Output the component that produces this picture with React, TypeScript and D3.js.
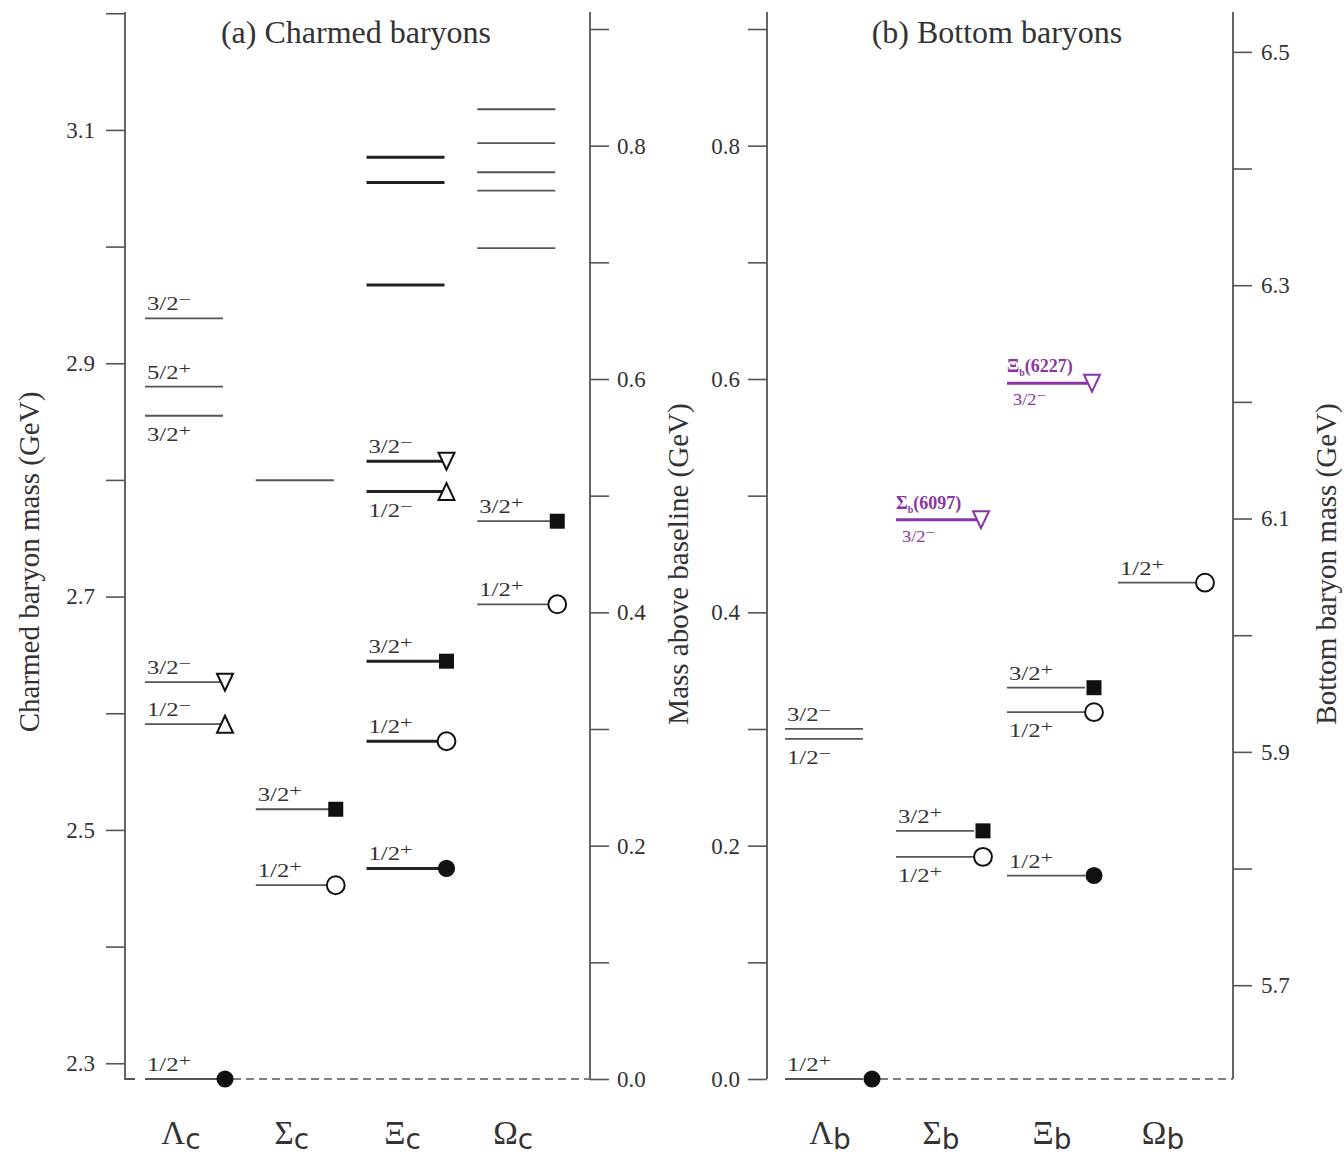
import React, { useEffect, useRef } from "react";
import * as d3 from "d3";

// ground states used as baselines (GeV)
const charmBase = 2.2865;
const bottomBase = 5.6196;

const charmNames = ["Λ", "Σ", "Ξ", "Ω"];
const bottomNames = ["Λ", "Σ", "Ξ", "Ω"];

// [mass (GeV), J^P, marker]
const lambdaC = [
  [2.2865, "1/2+", "dot"],
  [2.5906, "1/2-", "up"],
  [2.6266, "3/2-", "down"],
  [2.855, "3/2+", ""],
  [2.88, "5/2+", ""],
  [2.9385, "3/2-", ""],
];
const sigmaC = [
  [2.4526, "1/2+", "ring"],
  [2.5177, "3/2+", "square"],
  [2.7997, "", ""],
];
const xiC = [
  [2.467, "1/2+", "dot"],
  [2.576, "1/2+", "ring"],
  [2.6446, "3/2+", "square"],
  [2.79, "1/2-", "up"],
  [2.816, "3/2-", "down"],
  [2.967, "", ""],
  [3.055, "", ""],
  [3.0766, "", ""],
];
const omegaC = [
  [2.6934, "1/2+", "ring"],
  [2.7646, "3/2+", "square"],
  [2.9986, "", ""],
  [3.048, "", ""],
  [3.0637, "", ""],
  [3.0886, "", ""],
  [3.1177, "", ""],
];

const lambdaB = [
  [5.6196, "1/2+", "dot"],
  [5.9111, "1/2-", ""],
  [5.9197, "3/2-", ""],
];
const sigmaB = [
  [5.81, "1/2+", "ring"],
  [5.8323, "3/2+", "square"],
];
const xiB = [
  [5.794, "1/2+", "dot"],
  [5.934, "1/2+", "ring"],
  [5.955, "3/2+", "square"],
];
const omegaB = [[6.045, "1/2+", "ring"]];

// newly observed states (purple): column, mass, name tag, J^P
const newStates = [
  ["Σ", 6.099, "6097", "3/2-"],
  ["Ξ", 6.216, "6227", "3/2-"],
];

const charmCols = [lambdaC, sigmaC, xiC, omegaC];
const bottomCols = [lambdaB, sigmaB, xiB, omegaB];
const heavyCols = ["Ξc"];

const FONT = "'Liberation Serif', 'DejaVu Serif', serif";
const PURPLE = "#8a35a3";

const yTop = 12;
const yBot = 1079;

const yExc = d3.scaleLinear().domain([0, 0.9]).range([yBot, 29]);
const yC = d3.scaleLinear().domain([charmBase, charmBase + 0.9]).range([yBot, 29]);
const yB = d3.scaleLinear().domain([bottomBase, bottomBase + 0.9]).range([yBot, 29]);
const xC = d3.scaleBand().domain(charmNames.map((n) => n + "c")).range([145, 588]);
const xB = d3.scaleBand().domain(bottomNames.map((n) => n + "b")).range([785, 1229]);

const triUp = "M0,-8.5L8,8.5L-8,8.5Z";

const symbolFor = (m) => {
  const s = d3.symbol();
  if (m === "square") return s.type(d3.symbolSquare).size(225)();
  if (m === "up" || m === "down") return triUp;
  if (m === "ring") return s.type(d3.symbolCircle).size(250)();
  return s.type(d3.symbolCircle).size(230)();
};

const Marker = ({ x, y, m, color = "#111" }) => {
  if (!m) return null;
  const hollow = m === "ring" || m === "up" || m === "down";
  return (
    <path
      d={symbolFor(m)}
      transform={`translate(${x},${y})${m === "down" ? " rotate(180)" : ""}`}
      fill={hollow ? "#fff" : color}
      stroke={color}
      strokeWidth={hollow ? 2 : 0}
      strokeLinejoin="miter"
    />
  );
};

const JP = ({ x, y, jp, size = 19, fill = "#333", sx = 1.3 }) => {
  const main = jp.slice(0, -1);
  const sign = jp.slice(-1) === "-" ? "−" : "+";
  return (
    <text transform={`translate(${x},${y}) scale(${sx},1)`} fontSize={size} fill={fill} fontFamily={FONT}>
      {main}
      <tspan dy={-5} fontSize={size * 0.9}>
        {sign}
      </tspan>
    </text>
  );
};

const Column = ({ levels, x0, y, heavy, markerDx }) => (
  <g>
    {levels.map(([m, jp, mk], i) => {
      const yy = y(m);
      // label goes under the line when another labelled level sits just above it
      const below =
        jp && levels.some(([m2, jp2]) => jp2 && m2 > m && m2 - m < 0.03);
      return (
        <g key={i}>
          <line
            x1={x0}
            x2={x0 + 78}
            y1={yy}
            y2={yy}
            stroke={heavy ? "#222" : "#555"}
            strokeWidth={heavy ? 3 : 1.8}
          />
          <Marker x={x0 + markerDx} y={yy} m={mk} />
          {jp && <JP x={x0 + 2} y={below ? yy + 25 : yy - 8} jp={jp} />}
        </g>
      );
    })}
  </g>
);

const Axis = ({ scale, side, x, values, isMajor, pad }) => {
  const ref = useRef(null);
  useEffect(() => {
    const ax = (side === "left" ? d3.axisLeft(scale) : d3.axisRight(scale))
      .tickValues(values)
      .tickSize(19)
      .tickSizeOuter(0)
      .tickPadding(pad)
      .tickFormat((d) => (isMajor(d) ? d3.format(".1f")(d) : ""));
    const g = d3.select(ref.current);
    g.selectAll("*").remove();
    g.call(ax);
    g.select(".domain").remove();
    g.selectAll(".tick line").attr("stroke", "#555").attr("stroke-width", 1.6);
    g.selectAll(".tick text")
      .attr("font-family", FONT)
      .attr("font-size", 23)
      .attr("fill", "#333");
  }, []);
  return <g ref={ref} transform={`translate(${x},0)`} />;
};

const CatLabel = ({ x, name, sub }) => (
  <text x={x} y={1144} textAnchor="middle" fontFamily={FONT} fontSize={33} fill="#333">
    {name}
    <tspan dy={5} fontFamily="'DejaVu Sans', sans-serif" fontSize={28}>
      {sub}
    </tspan>
  </text>
);

const tenth = (d) => Math.round(d * 10);

export default function App() {
  const charmTicks = d3.range(23, 33).map((v) => v / 10);
  const excTicks = d3.range(0, 10).map((v) => v / 10);
  const bottomTicks = d3.range(57, 66).map((v) => v / 10);
  const charmX = xC.domain();
  const bottomX = xB.domain();

  return (
    <svg width={1344} height={1159} style={{ display: "block", position: "absolute", left: 0, top: 0 }}>
      <rect width={1344} height={1159} fill="#fff" />

      {/* titles */}
      <text x={356} y={43} textAnchor="middle" fontFamily={FONT} fontSize={32} fill="#333">
        (a) Charmed baryons
      </text>
      <text x={997} y={43} textAnchor="middle" fontFamily={FONT} fontSize={32} fill="#333">
        (b) Bottom baryons
      </text>

      {/* axis frames */}
      <g stroke="#555" strokeWidth={1.8} fill="none">
        <polyline points={`125,${yTop} 125,${yBot} 135,${yBot}`} />
        <line x1={590} x2={590} y1={yTop} y2={yBot} />
        <line x1={767} x2={767} y1={yTop} y2={yBot} />
        <line x1={1233} x2={1233} y1={yTop} y2={yBot} />
      </g>
      <Axis scale={yC} side="left" x={125} values={charmTicks} pad={11} isMajor={(d) => tenth(d) % 2 === 1 && d < 3.15} />
      <Axis scale={yExc} side="right" x={590} values={excTicks} pad={8} isMajor={(d) => tenth(d) % 2 === 0} />
      <Axis scale={yExc} side="left" x={767} values={excTicks} pad={8} isMajor={(d) => tenth(d) % 2 === 0} />
      <Axis scale={yB} side="right" x={1233} values={bottomTicks} pad={9} isMajor={(d) => tenth(d) % 2 === 1} />

      {/* axis titles */}
      <text transform="translate(39,562) rotate(-90)" textAnchor="middle" fontFamily={FONT} fontSize={29} fill="#333">
        Charmed baryon mass  (GeV)
      </text>
      <text transform="translate(688,564) rotate(-90)" textAnchor="middle" fontFamily={FONT} fontSize={29} fill="#333">
        Mass above baseline  (GeV)
      </text>
      <text transform="translate(1336,564) rotate(-90)" textAnchor="middle" fontFamily={FONT} fontSize={29} fill="#333">
        Bottom baryon mass  (GeV)
      </text>

      {/* dashed baselines */}
      <line x1={xC(charmX[0]) + 88} x2={590} y1={yExc(0)} y2={yExc(0)} stroke="#555" strokeWidth={1.6} strokeDasharray="8,5" />
      <line x1={xB(bottomX[0]) + 95} x2={1233} y1={yExc(0)} y2={yExc(0)} stroke="#555" strokeWidth={1.6} strokeDasharray="8,5" />

      {/* levels */}
      {charmCols.map((lv, i) => (
        <Column key={"c" + i} levels={lv} x0={xC(charmX[i])} y={yC} heavy={heavyCols.includes(charmX[i])} markerDx={80} />
      ))}
      {bottomCols.map((lv, i) => (
        <Column key={"b" + i} levels={lv} x0={xB(bottomX[i])} y={yB} heavy={false} markerDx={87} />
      ))}

      {/* new states */}
      {newStates.map(([col, m, tag, jp]) => {
        const x0 = xB(col + "b");
        const yy = yB(m);
        return (
          <g key={tag}>
            <line x1={x0} x2={x0 + 84} y1={yy} y2={yy} stroke={PURPLE} strokeWidth={3} />
            <Marker x={x0 + 85} y={yy} m="down" color={PURPLE} />
            <text x={x0} y={yy - 11} fontFamily={FONT} fontSize={18} fontWeight="bold" fill={PURPLE}>
              {col}
              <tspan dy={4} fontSize={10}>
                b
              </tspan>
              <tspan dy={-4}>({tag})</tspan>
            </text>
            <JP x={x0 + 6} y={yy + 22} jp={jp} size={16} sx={1.15} fill={PURPLE} />
          </g>
        );
      })}

      {/* category labels */}
      {charmNames.map((n, i) => (
        <CatLabel key={"cl" + i} x={xC(charmX[i]) + 36} name={n} sub="c" />
      ))}
      {bottomNames.map((n, i) => (
        <CatLabel key={"bl" + i} x={xB(bottomX[i]) + 45} name={n} sub="b" />
      ))}
    </svg>
  );
}
